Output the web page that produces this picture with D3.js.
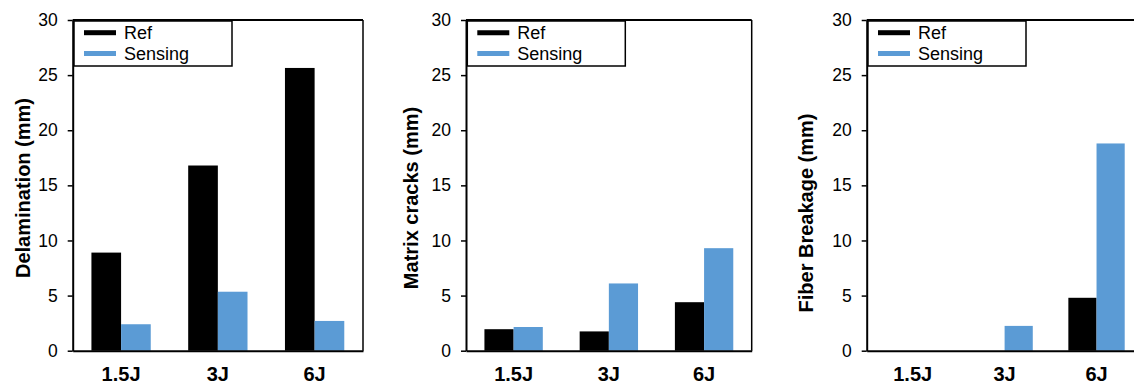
<!DOCTYPE html>
<html>
<head>
<meta charset="utf-8">
<script src="https://cdn.jsdelivr.net/npm/d3@7"></script>
<style>
    body { margin: 0; background: #fff; }
    svg { display: block; font-family: "Liberation Sans", Arial, sans-serif; }
</style>
</head>
<body>
<div class="chart"></div>
<script>
const categories = ["1.5J", "3J", "6J"];
const series = ["Ref", "Sensing"];
const yTicks = [0, 5, 10, 15, 20, 25, 30];

const delaminationRef = [8.9, 16.8, 25.65];
const delaminationSensing = [2.4, 5.35, 2.7];
const matrixRef = [1.95, 1.75, 4.4];
const matrixSensing = [2.15, 6.1, 9.3];
const fiberRef = [0, 0, 4.8];
const fiberSensing = [0, 2.25, 18.8];

const colors = {Ref: "#000000", Sensing: "#5b9bd5"};

const width = 1134;
const height = 384;
const plotTop = 20;
const plotBottom = 350.7;

const svg = d3.select(".chart")
    .append("svg")
    .attr("width", width)
    .attr("height", height);

function drawPanel(p) {
    const rows = categories.map((c, i) => ({cat: c, Ref: p.ref[i], Sensing: p.sensing[i]}));

    const x = d3.scaleBand()
        .domain(categories)
        .range([p.left, p.right])
        .paddingInner(0.387)
        .paddingOuter(0.1935);

    const x1 = d3.scaleBand()
        .domain(series)
        .range([0, x.bandwidth()]);

    const y = d3.scaleLinear()
        .domain([0, 30])
        .range([plotBottom, plotTop]);

    const g = svg.append("g");

    // box (top + right), axes drawn on top later
    g.append("line")
        .attr("x1", p.left).attr("x2", p.right)
        .attr("y1", plotTop).attr("y2", plotTop)
        .attr("stroke", "#000").attr("stroke-width", 1.8);
    g.append("line")
        .attr("x1", p.right).attr("x2", p.right)
        .attr("y1", plotTop).attr("y2", plotBottom)
        .attr("stroke", "#000").attr("stroke-width", 1.5);

    // bars
    g.append("g")
        .selectAll("g")
        .data(rows)
        .join("g")
        .attr("transform", d => `translate(${x(d.cat)},0)`)
        .selectAll("rect")
        .data(d => series.map(s => ({key: s, value: d[s]})))
        .join("rect")
        .attr("x", d => x1(d.key))
        .attr("y", d => y(d.value))
        .attr("width", x1.bandwidth())
        .attr("height", d => y(0) - y(d.value))
        .attr("fill", d => colors[d.key]);

    // y axis
    const yAxis = g.append("g")
        .attr("transform", `translate(${p.left},0)`)
        .call(d3.axisLeft(y).tickValues(yTicks).tickSize(5).tickPadding(10).tickSizeOuter(0));
    yAxis.select(".domain").attr("stroke-width", 2);
    yAxis.selectAll(".tick line").attr("stroke-width", 1.5);
    yAxis.selectAll("text")
        .style("font-size", "17.5px")
        .style("font-family", "Liberation Sans, Arial, sans-serif")
        .attr("fill", "#000");

    // x axis
    const xAxis = g.append("g")
        .attr("transform", `translate(0,${plotBottom})`)
        .call(d3.axisBottom(x).tickSize(0).tickPadding(16));
    xAxis.select(".domain").attr("stroke-width", 2);
    xAxis.selectAll("text")
        .style("font-size", "20px")
        .style("font-weight", "bold")
        .style("font-family", "Liberation Sans, Arial, sans-serif")
        .attr("fill", "#000");

    // y title
    g.append("text")
        .attr("transform", `translate(${p.titleX},${p.titleY}) rotate(-90)`)
        .attr("text-anchor", "middle")
        .style("font-size", "20px")
        .style("font-weight", "bold")
        .text(p.title);

    // legend
    const lg = g.append("g")
        .attr("transform", `translate(${p.left + 1.3},${plotTop + 1})`);
    lg.append("rect")
        .attr("width", 158)
        .attr("height", 45)
        .attr("fill", "#fff")
        .attr("stroke", "#000")
        .attr("stroke-width", 1.5);
    series.forEach((s, i) => {
        lg.append("line")
            .attr("x1", 10).attr("x2", 42)
            .attr("y1", 11.7 + i * 20.8).attr("y2", 11.7 + i * 20.8)
            .attr("stroke", colors[s])
            .attr("stroke-width", 5);
        lg.append("text")
            .attr("x", 50)
            .attr("y", 18.3 + i * 20.7)
            .style("font-size", "18px")
            .text(s);
    });
}

drawPanel({left: 72.7, right: 363, ref: delaminationRef, sensing: delaminationSensing,
    title: "Delamination (mm)", titleX: 30, titleY: 188});
drawPanel({left: 466, right: 751.7, ref: matrixRef, sensing: matrixSensing,
    title: "Matrix cracks (mm)", titleX: 418, titleY: 198});
drawPanel({left: 866.7, right: 1142.5, ref: fiberRef, sensing: fiberSensing,
    title: "Fiber Breakage (mm)", titleX: 813, titleY: 213});
</script>
</body>
</html>
